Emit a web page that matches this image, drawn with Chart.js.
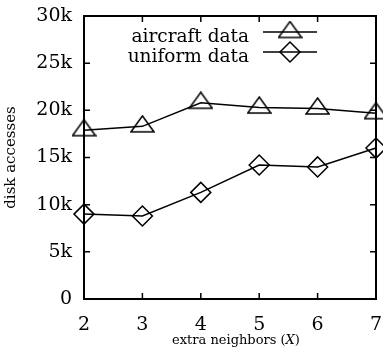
<!DOCTYPE html>
<html>
<head>
<meta charset="utf-8">
<script src="https://cdn.jsdelivr.net/npm/chart.js@4"></script>
<style>
  html, body { margin: 0; padding: 0; background: #fff; }
  #wrap { width: 383px; height: 356px; }
</style>
</head>
<body>
<div id="wrap"><canvas id="chart" width="383" height="356"></canvas></div>
<script>
// data
const neighbors = [2, 3, 4, 5, 6, 7];
const aircraftData = [17900, 18300, 20800, 20300, 20200, 19700];
const uniformData = [9000, 8800, 11300, 14200, 14000, 16000];
const yTicks = [0, 5000, 10000, 15000, 20000, 25000, 30000];

const FONT = '"DejaVu Serif", "Liberation Serif", serif';

// wide, flat open triangle like the gnuplot one; the point sits at its centroid
function makeTriangle(w, h) {
    const c = document.createElement('canvas');
    c.width = w + 2;
    c.height = Math.round(h * 4 / 3) + 2;
    const g = c.getContext('2d');
    g.strokeStyle = '#000';
    g.lineWidth = 1.5;
    g.beginPath();
    g.moveTo(c.width / 2, 1);
    g.lineTo(c.width - 1, h + 1);
    g.lineTo(1, h + 1);
    g.closePath();
    g.stroke();
    return c;
}

const triangle = makeTriangle(23, 16);

// marker settings for each series
const series = [
    { label: 'aircraft data', values: aircraftData, style: triangle, radius: 12 },
    { label: 'uniform data', values: uniformData, style: 'rectRot', radius: 10 }
];

// inward ticks on all four sides + custom legend + x title
const framePlugin = {
    id: 'frame',
    afterDraw(chart) {
        const ctx = chart.ctx;
        const a = chart.chartArea;
        const xs = chart.scales.x;
        const ys = chart.scales.y;
        ctx.save();
        ctx.strokeStyle = '#000';
        ctx.lineWidth = 1.5;
        ctx.beginPath();
        yTicks.forEach(v => {
            const y = ys.getPixelForValue(v);
            ctx.moveTo(a.left, y); ctx.lineTo(a.left + 6, y);
            ctx.moveTo(a.right, y); ctx.lineTo(a.right - 6, y);
        });
        neighbors.forEach(v => {
            const x = xs.getPixelForValue(v);
            ctx.moveTo(x, a.bottom); ctx.lineTo(x, a.bottom - 6);
            ctx.moveTo(x, a.top); ctx.lineTo(x, a.top + 6);
        });
        ctx.stroke();
        ctx.lineWidth = 2;
        ctx.strokeRect(a.left, a.top, a.right - a.left, a.bottom - a.top);

        // legend: text on the left, sample line and marker on the right
        ctx.font = '18.5px ' + FONT;
        ctx.textAlign = 'right';
        ctx.textBaseline = 'alphabetic';
        series.forEach((s, i) => {
            const y = 32 + i * 20;
            ctx.fillStyle = '#000';
            ctx.fillText(s.label, 249, y + 10);
            ctx.lineWidth = 1.5;
            ctx.beginPath();
            ctx.moveTo(263, y); ctx.lineTo(317, y);
            ctx.stroke();
            ctx.fillStyle = 'rgba(0,0,0,0)';
            Chart.helpers.drawPoint(ctx, { pointStyle: s.style, radius: s.radius, rotation: 0, borderWidth: 1.5 }, 290, y);
        });

        // x axis title with italic X
        const p1 = 'extra neighbors (', p2 = 'X', p3 = ')';
        ctx.fillStyle = '#000';
        ctx.textAlign = 'left';
        ctx.font = '13px ' + FONT;
        const w1 = ctx.measureText(p1).width;
        const w3 = ctx.measureText(p3).width;
        ctx.font = 'italic 13px ' + FONT;
        const w2 = ctx.measureText(p2).width;
        const x = (a.left + a.right) / 2 + 6 - (w1 + w2 + w3) / 2;
        const yb = 344;
        ctx.font = '13px ' + FONT;
        ctx.fillText(p1, x, yb);
        ctx.fillText(p3, x + w1 + w2, yb);
        ctx.font = 'italic 13px ' + FONT;
        ctx.fillText(p2, x + w1, yb);
        ctx.restore();
    }
};

new Chart(document.getElementById('chart').getContext('2d'), {
    type: 'line',
    data: {
        datasets: series.map(s => ({
            label: s.label,
            data: neighbors.map((n, i) => ({ x: n, y: s.values[i] })),
            borderColor: '#000',
            borderWidth: 1.5,
            backgroundColor: 'rgba(0,0,0,0)',
            pointStyle: s.style,
            pointRadius: s.radius,
            pointBorderColor: '#000',
            pointBorderWidth: 1.5,
            pointBackgroundColor: 'rgba(0,0,0,0)',
            tension: 0,
            clip: false
        }))
    },
    options: {
        responsive: false,
        animation: false,
        layout: { autoPadding: false, padding: { top: 16, right: 7, left: 0, bottom: 0 } },
        plugins: {
            legend: { display: false },
            tooltip: { enabled: false }
        },
        scales: {
            x: {
                type: 'linear',
                min: 2,
                max: 7,
                grid: { display: false, drawTicks: false },
                border: { display: false },
                ticks: {
                    stepSize: 1,
                    padding: 15,
                    color: '#000',
                    font: { family: FONT, size: 19 }
                },
                afterFit(scale) {
                    scale.height = 57;
                    scale.paddingLeft = 0;
                    scale.paddingRight = 0;
                }
            },
            y: {
                min: 0,
                max: 30000,
                grid: { display: false, drawTicks: false },
                border: { display: false },
                ticks: {
                    stepSize: 5000,
                    padding: 12,
                    color: '#000',
                    font: { family: FONT, size: 19 },
                    callback: v => v === 0 ? '0' : (v / 1000) + 'k'
                },
                title: {
                    display: true,
                    text: 'disk accesses',
                    color: '#000',
                    font: { family: FONT, size: 15 },
                    padding: { top: 2, bottom: 0 }
                },
                afterFit(scale) {
                    scale.width = 84;
                    scale.paddingTop = 0;
                    scale.paddingBottom = 0;
                }
            }
        }
    },
    plugins: [framePlugin]
});
</script>
</body>
</html>
